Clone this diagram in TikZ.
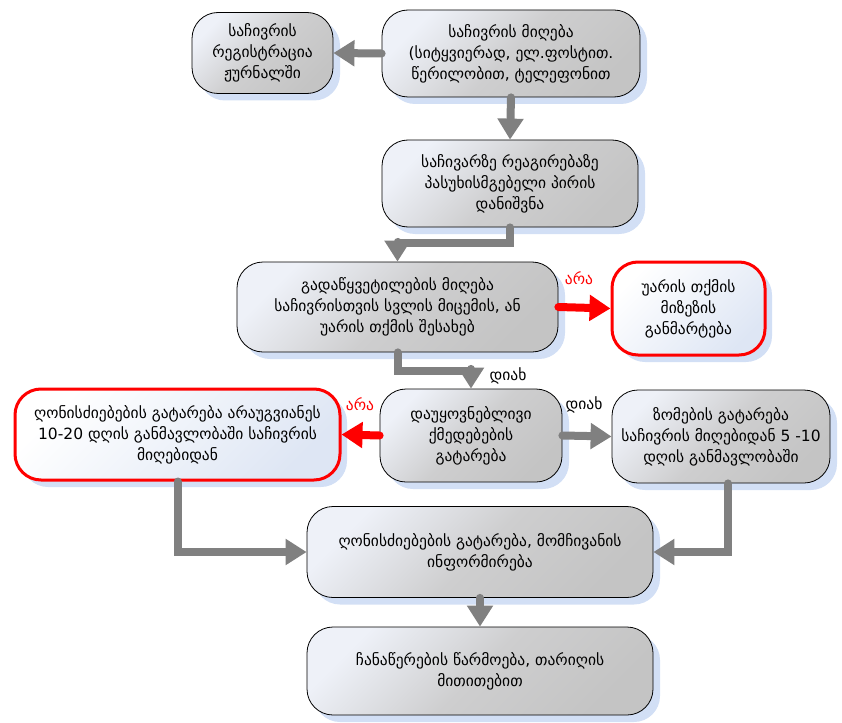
\documentclass[tikz,border=0pt]{standalone}
\usepackage{fontspec}
\setmainfont{DejaVu Sans}
\usetikzlibrary{arrows.meta,shadows}
\definecolor{boxgray}{RGB}{196,196,196}
\definecolor{boxmid}{RGB}{206,206,207}
\definecolor{boxlight}{RGB}{238,241,248}
\definecolor{boxblue}{RGB}{222,230,244}
\definecolor{shadowblue}{RGB}{180,201,238}
\definecolor{arrowgray}{RGB}{128,128,128}
\definecolor{alarmred}{RGB}{255,0,0}

\begin{document}
\begin{tikzpicture}[x=1pt,y=-1pt,graybox/.style={rectangle,rounded corners=26pt,draw=black,line width=0.8pt,top color=boxlight,bottom color=boxgray,middle color=boxmid,shading angle=45,align=center,font=\fontsize{15.5}{21}\selectfont,drop shadow={shadow xshift=7pt,shadow yshift=-7pt,fill=shadowblue,opacity=0.6}}]
		\tikzstyle{redbox}=[graybox,draw=alarmred,line width=3pt,top color=white,bottom color=boxblue,shading angle=45]
		\tikzstyle{grayarrow}=[draw=arrowgray,line width=8pt,line cap=round,-{Triangle[width=25pt,length=21pt]}]
		\tikzstyle{redarrow}=[grayarrow,draw=alarmred]
		\tikzstyle{yes}=[font=\fontsize{15.5}{18}\selectfont]
		\tikzstyle{no}=[yes,text=alarmred]
		\useasboundingbox (0,0) rectangle (842,722);
		
		\node[graybox,minimum width=258pt,minimum height=87pt] (mi) at (511,53.5) {საჩივრის მიღება\\(სიტყვიერად, ელ.ფოსტით.\\წერილობით, ტელეფონით};
		\node[graybox,minimum width=141pt,minimum height=81pt] (reg) at (262.5,53) {საჩივრის\\რეგისტრაცია\\ჟურნალში};
		\node[graybox,minimum width=256pt,minimum height=87pt] (pas) at (510,183.5) {საჩივარზე რეაგირებაზე\\პასუხისმგებელი პირის\\დანიშვნა};
		\node[graybox,minimum width=321pt,minimum height=90pt] (gad) at (397.5,307) {გადაწყვეტილების მიღება\\საჩივრისთვის სვლის მიცემის, ან\\უარის თქმის შესახებ};
		\node[redbox,minimum width=153pt,minimum height=93pt] (uar) at (688.5,308.5) {უარის თქმის\\მიზეზის\\განმარტება};
		\node[graybox,minimum width=182pt,minimum height=93pt] (dau) at (471,435.5) {დაუყოვნებლივი\\ქმედებების\\გატარება};
		\node[redbox,minimum width=325pt,minimum height=91pt] (ghon) at (177.5,434.5) {ღონისძიებების გატარება არაუგვიანეს\\10-20 დღის განმავლობაში საჩივრის\\მიღებიდან};
		\node[graybox,minimum width=218pt,minimum height=93pt] (zom) at (721,436.5) {ზომების გატარება\\საჩივრის მიღებიდან 5 -10\\დღის განმავლობაში};
		\node[graybox,minimum width=346pt,minimum height=91pt] (inf) at (480,552) {ღონისძიებების გატარება, მომჩივანის\\ინფორმირება};
		\node[graybox,minimum width=346pt,minimum height=88pt] (chan) at (480,671) {ჩანაწერების წარმოება, თარიღის\\მითითებით};
		
		\node[no] (no1) at (579,278) {არა};
		\node[no] (no2) at (360,404) {არა};
		\node[yes] (yes1) at (508,376) {დიახ};
		\node[yes] (yes2) at (584,405) {დიახ};
		
		\path[grayarrow] (mi.west) -- (reg.east);
		\path[grayarrow] (mi.south) -- (pas.north);
		\path[grayarrow] (pas.south) -- ++(0,16) -| (gad.north);
		\path[redarrow] (gad.east) -- (uar.west);
		\path[grayarrow] (gad.south) -- ++(0,19) -| (dau.north);
		\path[redarrow] (dau.west) -- (ghon.east);
		\path[grayarrow] (dau.east) -- (zom.west);
		\path[grayarrow] (ghon.south) |- (inf.west);
		\path[grayarrow] ([xshift=7pt]zom.south) |- (inf.east);
		\path[grayarrow] (inf.south) -- (chan.north);
		
		\end{tikzpicture}
\end{document}
